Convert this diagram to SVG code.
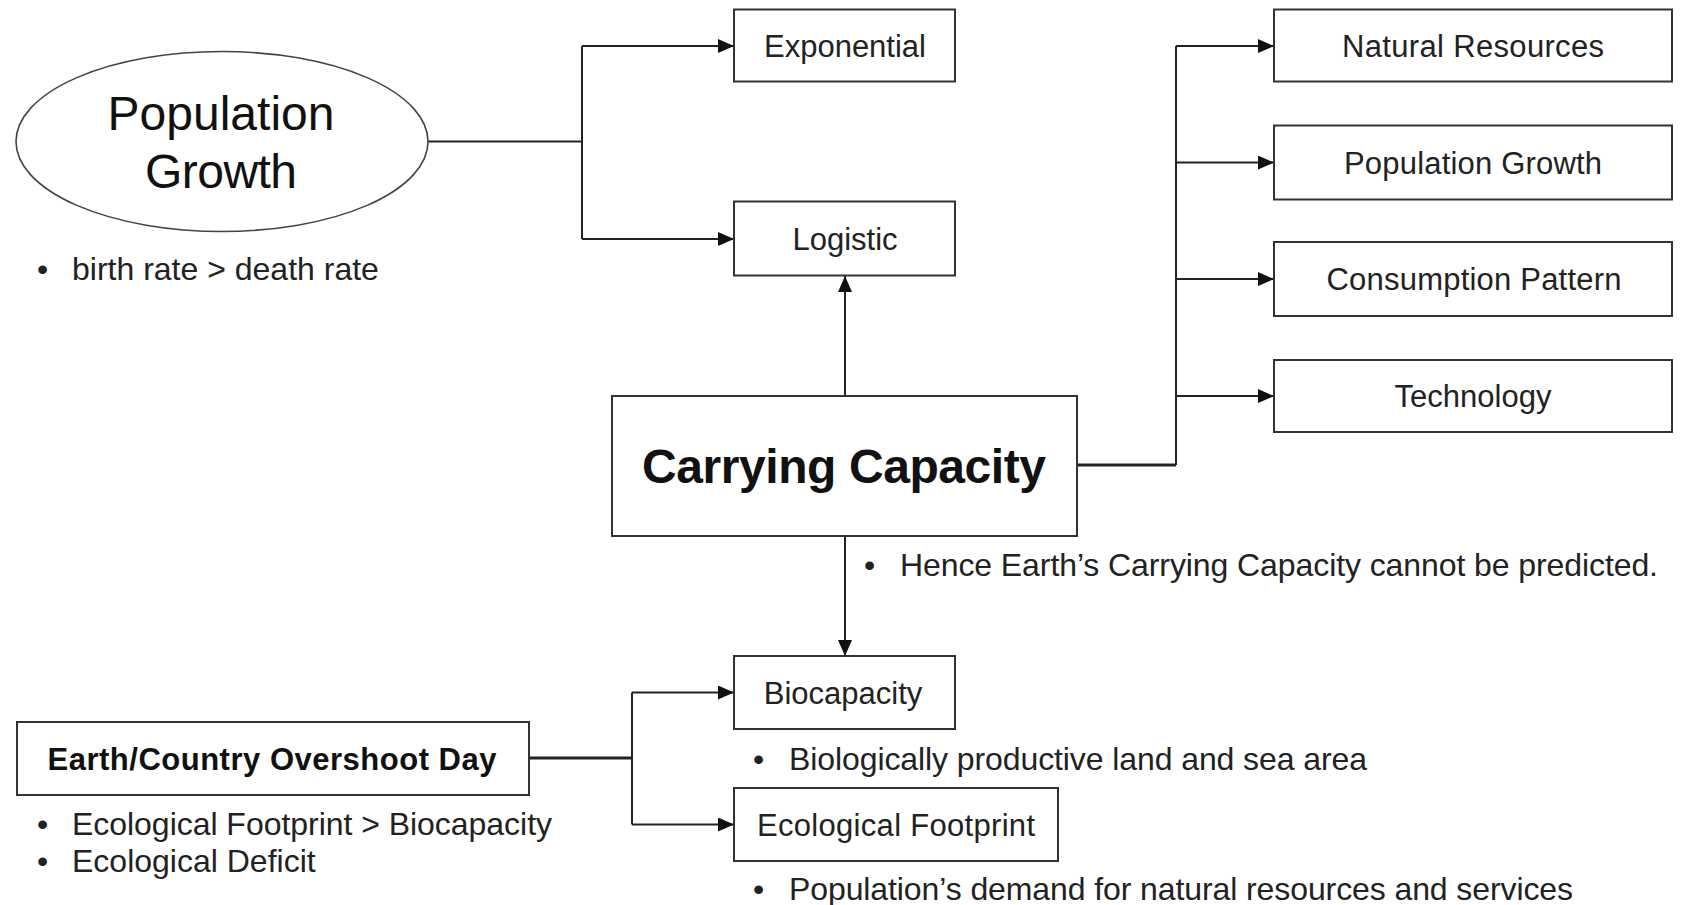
<svg xmlns="http://www.w3.org/2000/svg" width="1681" height="905" viewBox="0 0 1681 905">
  <style>
    .box { fill: #ffffff; stroke: #333333; stroke-width: 2; }
    .oval { fill: #ffffff; stroke: #444444; stroke-width: 1.6; }
    .lbl { font-family: "Liberation Sans", Arial, sans-serif; font-size: 31px; fill: #222222; text-anchor: middle; }
    .big { font-family: "Liberation Sans", Arial, sans-serif; font-size: 48px; fill: #111111; text-anchor: middle; }
    .bold { font-weight: bold; fill: #111111; }
    .note { font-family: "Liberation Sans", Arial, sans-serif; font-size: 32px; fill: #222222; }
    .link { fill: none; stroke: #222222; stroke-width: 2; }
    .thick { stroke-width: 3; }
  </style>
  <defs>
    <marker id="arrow" markerUnits="userSpaceOnUse" markerWidth="17" markerHeight="14" refX="16" refY="7" orient="auto">
      <path d="M0,0 L16,7 L0,14 z" fill="#111111"/>
    </marker>
  </defs>

  <rect width="1681" height="905" fill="#ffffff"/>

  <!-- connectors -->
  <g id="connectors">
    <!-- population growth to its two models -->
    <path class="link" d="M428,141.5 H582"/>
    <path class="link" d="M582,46 V239"/>
    <path class="link" d="M582,46 H734" marker-end="url(#arrow)"/>
    <path class="link" d="M582,239 H734" marker-end="url(#arrow)"/>
    <!-- carrying capacity up to logistic -->
    <path class="link" d="M845,396 V276" marker-end="url(#arrow)"/>
    <!-- carrying capacity to its factors -->
    <path class="link thick" d="M1077,465 H1176"/>
    <path class="link" d="M1176,46 V465"/>
    <path class="link" d="M1176,46 H1274" marker-end="url(#arrow)"/>
    <path class="link" d="M1176,162.5 H1274" marker-end="url(#arrow)"/>
    <path class="link" d="M1176,279 H1274" marker-end="url(#arrow)"/>
    <path class="link" d="M1176,396 H1274" marker-end="url(#arrow)"/>
    <!-- carrying capacity down to biocapacity -->
    <path class="link" d="M845,536 V656" marker-end="url(#arrow)"/>
    <!-- overshoot day to biocapacity and footprint -->
    <path class="link thick" d="M529,758 H632"/>
    <path class="link" d="M632,692.5 V824.5"/>
    <path class="link" d="M632,692.5 H734" marker-end="url(#arrow)"/>
    <path class="link" d="M632,824.5 H734" marker-end="url(#arrow)"/>
  </g>

  <g id="population-growth">
    <ellipse class="oval" cx="222" cy="141.5" rx="206" ry="90"/>
    <text class="big" x="221" y="129.5" textLength="227">Population</text>
    <text class="big" x="221" y="187.5" textLength="152">Growth</text>
    <text class="note" y="280"><tspan x="37">•</tspan><tspan x="72">birth rate &gt; death rate</tspan></text>
  </g>

  <g id="exponential">
    <rect class="box" x="734" y="9.5" width="221" height="72"/>
    <text class="lbl" x="845" y="56.5">Exponential</text>
  </g>

  <g id="logistic">
    <rect class="box" x="734" y="201.5" width="221" height="74"/>
    <text class="lbl" x="845" y="249.5">Logistic</text>
  </g>

  <g id="natural-resources">
    <rect class="box" x="1274" y="9.5" width="398" height="72"/>
    <text class="lbl" x="1473" y="56.5" textLength="262">Natural Resources</text>
  </g>

  <g id="population-growth-factor">
    <rect class="box" x="1274" y="125.5" width="398" height="74"/>
    <text class="lbl" x="1473" y="173.5" textLength="258">Population Growth</text>
  </g>

  <g id="consumption-pattern">
    <rect class="box" x="1274" y="242" width="398" height="74"/>
    <text class="lbl" x="1474" y="290" textLength="295">Consumption Pattern</text>
  </g>

  <g id="technology">
    <rect class="box" x="1274" y="360" width="398" height="72"/>
    <text class="lbl" x="1473" y="407">Technology</text>
  </g>

  <g id="carrying-capacity">
    <rect class="box" x="612" y="396" width="465" height="140"/>
    <text class="big bold" x="844" y="482.5" font-size="47" textLength="404">Carrying Capacity</text>
    <text class="note" y="576"><tspan x="864">•</tspan><tspan x="900" textLength="758">Hence Earth’s Carrying Capacity cannot be predicted.</tspan></text>
  </g>

  <g id="biocapacity">
    <rect class="box" x="734" y="656" width="221" height="73"/>
    <text class="lbl" x="843" y="703.5">Biocapacity</text>
    <text class="note" y="770"><tspan x="753">•</tspan><tspan x="789" textLength="578">Biologically productive land and sea area</tspan></text>
  </g>

  <g id="ecological-footprint">
    <rect class="box" x="734" y="788" width="324" height="73"/>
    <text class="lbl" x="896" y="835.5" textLength="278">Ecological Footprint</text>
    <text class="note" y="900"><tspan x="753">•</tspan><tspan x="789" textLength="784">Population’s demand for natural resources and services</tspan></text>
  </g>

  <g id="overshoot-day">
    <rect class="box" x="17" y="722" width="512" height="73"/>
    <text class="lbl bold" x="272" y="770" textLength="449">Earth/Country Overshoot Day</text>
    <text class="note" y="835"><tspan x="37">•</tspan><tspan x="72" textLength="480">Ecological Footprint &gt; Biocapacity</tspan></text>
    <text class="note" y="872"><tspan x="37">•</tspan><tspan x="72">Ecological Deficit</tspan></text>
  </g>
</svg>
